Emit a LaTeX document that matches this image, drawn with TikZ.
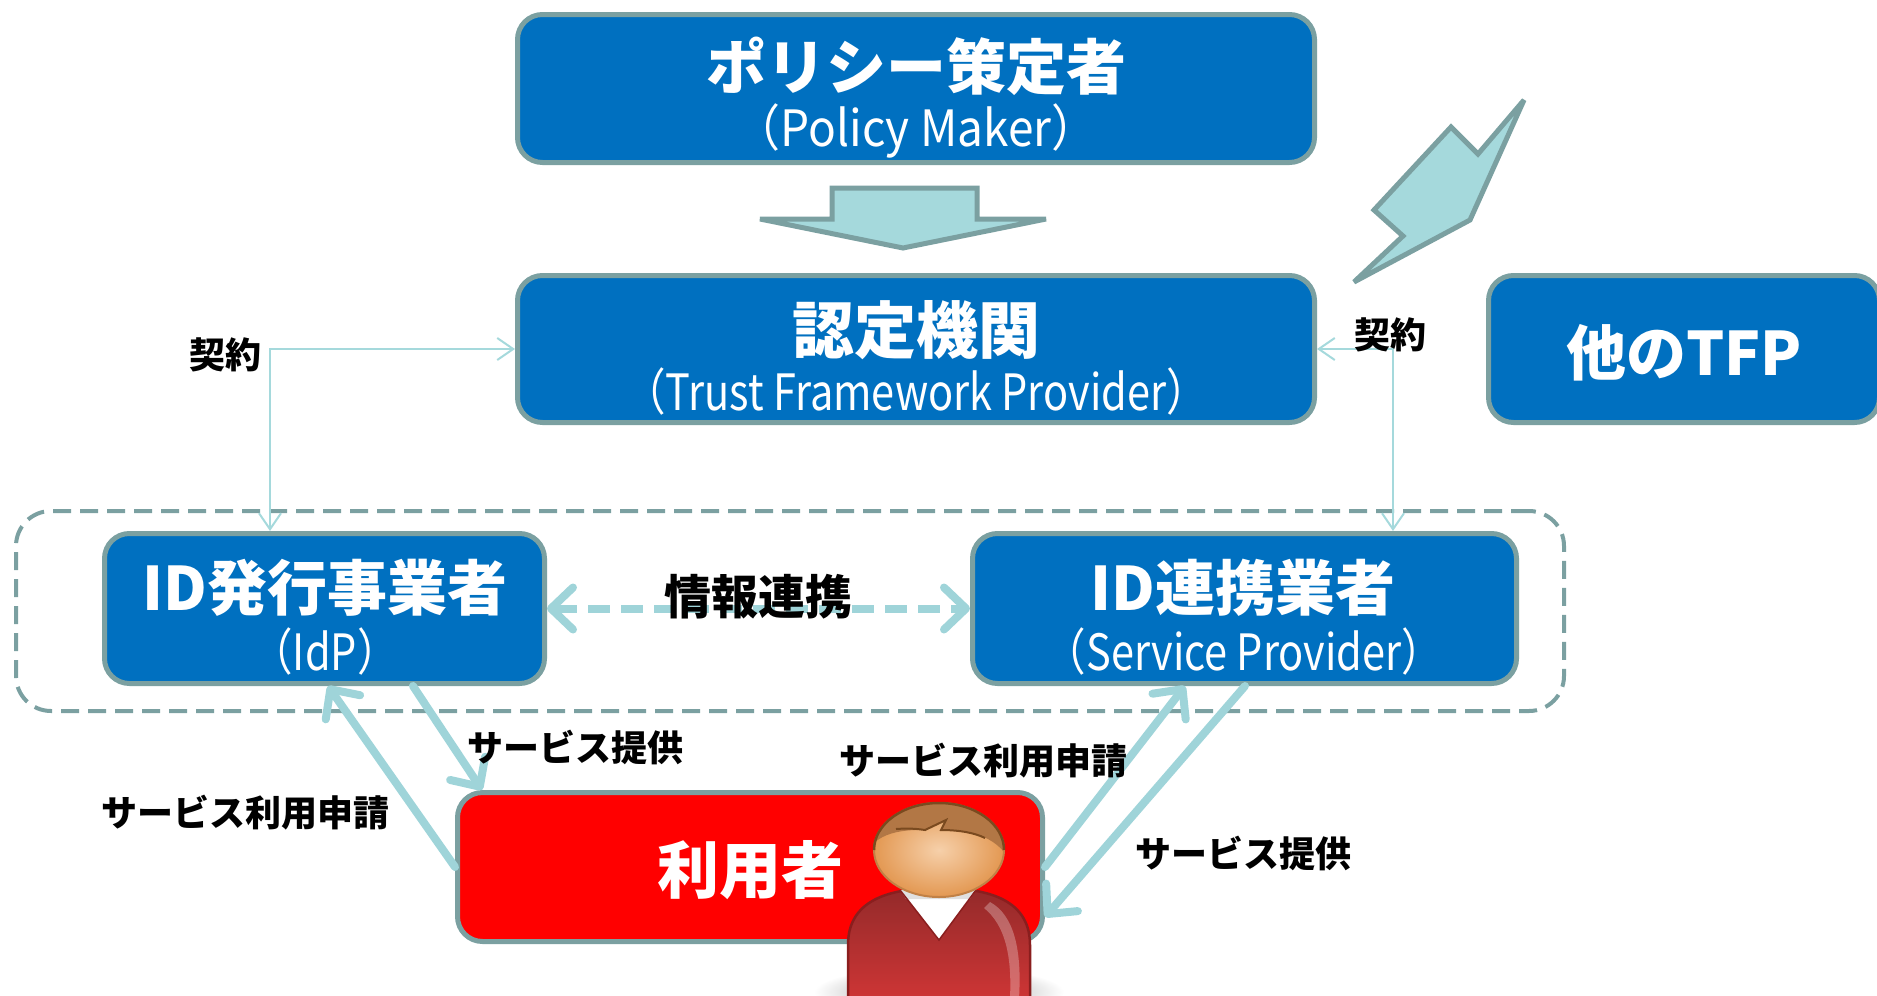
\documentclass[tikz,border=0pt]{standalone}
\usepackage{fontspec}
\usepackage{graphicx}
\setmainfont{Noto Sans CJK JP}
\usetikzlibrary{arrows.meta,calc}
\definecolor{boxblue}{HTML}{0070C0}
\definecolor{rim}{HTML}{7BA0A1}
\definecolor{aqua}{HTML}{A5D9DC}
\definecolor{linkaqua}{HTML}{9FD4D9}
\definecolor{userred}{HTML}{FF0000}
\definecolor{shirtdark}{HTML}{932A2A}
\definecolor{shirtlight}{HTML}{CD3535}
\definecolor{shirtline}{HTML}{8A1E1E}
\definecolor{skinlight}{HTML}{F6D0AA}
\definecolor{skindark}{HTML}{E39852}
\definecolor{hair}{HTML}{B27745}
\definecolor{hairline}{HTML}{7A4A1F}
% narrow setting for the English subtitles
\newcommand{\narrow}[2][0.83]{\scalebox{#1}[1]{#2}}
\begin{document}
\begin{tikzpicture}[x=1pt,y=-1pt,
  box/.style={draw=rim, line width=5pt, fill=boxblue, rounded corners=25pt, inner sep=0pt},
  ttl/.style={text=white, font=\fontsize{60}{66}\selectfont\bfseries, inner sep=0pt},
  subttl/.style={text=white, font=\fontsize{50}{54}\selectfont, inner sep=0pt},
  lbl/.style={text=black, font=\fontsize{36}{40}\selectfont\bfseries, inner sep=0pt},
  contract/.style={draw=aqua, line width=2pt,
    {Straight Barb[length=16pt,width=22pt]}-{Straight Barb[length=16pt,width=22pt]}},
  fat/.style={draw=linkaqua, line width=8pt, line cap=round,
    -{Straight Barb[length=22pt,width=42pt,round]}},
  fatdash/.style={draw=linkaqua, line width=8pt, dash pattern=on 22pt off 11pt,
    {Straight Barb[length=22pt,width=42pt,round]}-{Straight Barb[length=22pt,width=42pt,round]}},
  group/.style={draw=rim, line width=4pt, dash pattern=on 18pt off 9pt, rounded corners=35pt, inner sep=0pt},
  shapeline/.style={draw=rim, line width=5pt, fill=aqua, line join=miter, miter limit=6}
]
\useasboundingbox (0,0) rectangle (1877,996);

% dashed frame around the two ID providers
\node[group, minimum width=1548pt, minimum height=200pt] (grp) at (790,611) {};

% boxes
\node[box, minimum width=797pt, minimum height=148pt] (pm) at (916,88.5) {};
\node[ttl] (pm-t) at (916,66) {ポリシー策定者};
\node[subttl] (pm-s) at (916,131) {\narrow[0.92]{（Policy Maker）}};

\node[box, minimum width=797pt, minimum height=147pt] (auth) at (916,349) {};
\node[ttl, font=\fontsize{62}{68}\selectfont\bfseries] (auth-t) at (916,330) {認定機関};
\node[subttl] (auth-s) at (916,391) {\narrow{（Trust Framework Provider）}};

\node[box, minimum width=391pt, minimum height=147pt] (tfp) at (1684,349) {};
\node[ttl] (tfp-t) at (1684,353) {他のTFP};

\node[box, minimum width=440pt, minimum height=150pt] (idp) at (324.5,608.5) {};
\node[ttl] (idp-t) at (325,588) {ID発行事業者};
\node[subttl] (idp-s) at (325,651) {\narrow{（IdP）}};

\node[box, minimum width=544pt, minimum height=150pt] (sp) at (1244.5,608.5) {};
\node[ttl] (sp-t) at (1243,588) {ID連携業者};
\node[subttl] (sp-s) at (1244,651) {\narrow{（Service Provider）}};

\node[box, fill=userred, minimum width=585pt, minimum height=149pt] (user) at (750,867) {};
\node[ttl, font=\fontsize{62}{68}\selectfont\bfseries] (user-t) at (750,870) {利用者};

% block arrow from the policy maker down to the authority
\path[shapeline] (832,188) -- (977,188) -- (977,219) -- (1046,219) -- (903,248)
  -- (760,219) -- (832,219) -- cycle;

% lightning bolt towards the other trust frameworks
\path[shapeline] (1524,100) -- (1470,220) -- (1354,282) -- (1403,236)
  -- (1374,210) -- (1451,127) -- (1478,154) -- cycle;

% contracts with the authority
\coordinate (kl) at (270,349);
\coordinate (kr) at (1393,349);
\draw[contract] (auth.west) -- (kl) -- (kl |- idp.north);
\draw[contract] (auth.east) -- (kr) -- (kr |- sp.north);
\node[lbl] (kl-t) at (225,355) {契約};
\node[lbl] (kr-t) at (1390,335) {契約};

% information exchange between IdP and SP
\draw[fatdash] (idp.east) -- (sp.west);
\node[lbl, font=\fontsize{47}{52}\selectfont\bfseries] (info-t) at (758,597) {情報連携};

% service requests and provision
\draw[fat] ([xshift=311pt]idp.south west) -- ([xshift=27pt]user.north west);
\draw[fat] (user.west) -- ([xshift=226pt]idp.south west);
\draw[fat] (user.east) -- ([xshift=215pt]sp.south west);
\draw[fat] ([xshift=275pt]sp.south west) -- ([yshift=-50pt]user.east);
\node[lbl] (f1-t) at (575,747) {サービス提供};
\node[lbl] (f2-t) at (245,813) {サービス利用申請};
\node[lbl] (f3-t) at (983,761) {サービス利用申請};
\node[lbl] (f4-t) at (1243,853) {サービス提供};

% user figure
\shade[inner color=black!45, outer color=white] (939,992) ellipse [x radius=125pt, y radius=26pt];
\shade[top color=shirtdark, bottom color=shirtlight, draw=shirtline, line width=2.5pt]
  (848,998) -- (848,945) .. controls (848,905) and (880,888) .. (939,888)
  .. controls (998,888) and (1030,905) .. (1030,945) -- (1030,998) -- cycle;
\fill[white, opacity=0.28] (990,902) .. controls (1014,915) and (1022,950) .. (1019,998)
  -- (1010,998) .. controls (1012,955) and (1005,925) .. (984,908) -- cycle;
\fill[white] (900,890) -- (976,890) -- (939,940) -- cycle;
\fill[black!12] (900,890) -- (976,890) -- (970,899) -- (906,899) -- cycle;
\draw[shirtline, line width=1.5pt] (900,890) -- (939,940) -- (976,890);
\shade[inner color=skinlight, outer color=skindark] (939,850) ellipse [x radius=65pt, y radius=47pt];
\begin{scope}
  \clip (939,850) ellipse [x radius=65pt, y radius=47pt];
  \fill[hair] (860,790) -- (860,866) .. controls (868,838) and (890,829) .. (925,830)
    -- (946,820) -- (941,830) .. controls (982,830) and (1002,842) .. (1014,868)
    -- (1014,790) -- cycle;
  \draw[hairline, line width=2pt] (896,829) .. controls (910,828) and (918,829) .. (925,830)
    -- (946,820) -- (941,830) .. controls (960,830) and (975,833) .. (985,838);
\end{scope}
\draw[skindark!85!black, line width=2pt] (939,850) ellipse [x radius=65pt, y radius=47pt];
\draw[hairline, line width=2.5pt] (874,850) arc [start angle=180, end angle=0, x radius=65pt, y radius=47pt];
\end{tikzpicture}
\end{document}
